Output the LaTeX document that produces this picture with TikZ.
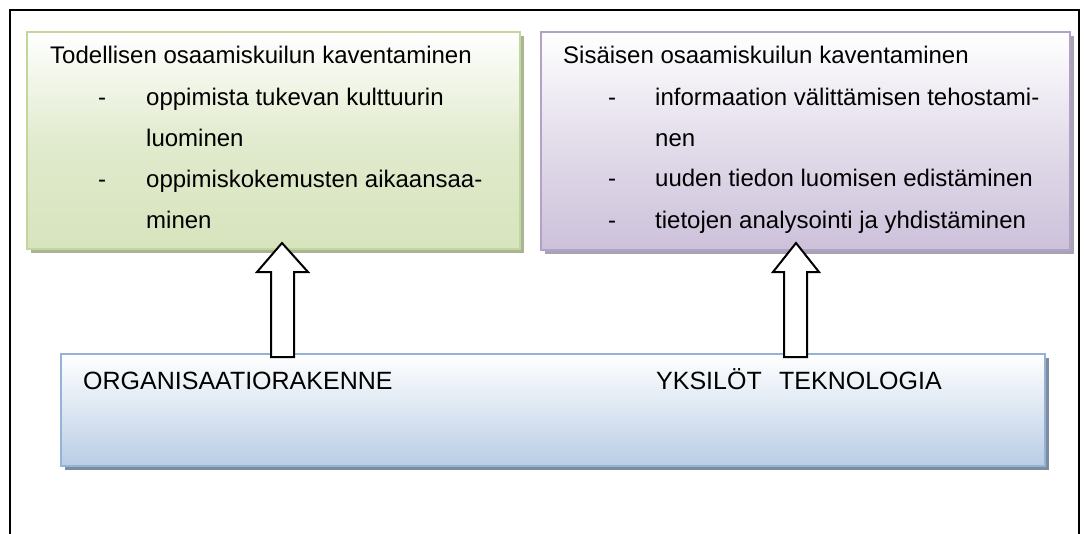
\documentclass[tikz,border=0pt]{standalone}
\usepackage{fontspec}
\setmainfont{Liberation Sans}
\begin{document}
\definecolor{gfill}{HTML}{D7E4BD}
\definecolor{gline}{HTML}{C3D69B}
\definecolor{gshade}{HTML}{A9B496}
\definecolor{pfill}{HTML}{CCC1DA}
\definecolor{pline}{HTML}{B3A2C7}
\definecolor{pshade}{HTML}{A8A2B2}
\definecolor{bfill}{HTML}{B9CDE5}
\definecolor{bline}{HTML}{95B3D7}
\definecolor{bshade}{HTML}{7E8CA2}
\begin{tikzpicture}[x=1pt,y=-1pt,
  txt/.style={anchor=base west,inner sep=0pt,font=\fontsize{24}{28}\selectfont},
  captxt/.style={anchor=base west,inner sep=0pt,font=\fontsize{25}{29}\selectfont},
  blockarrow/.style={draw=black,fill=white,line width=2pt,line join=miter},
  frame/.style={draw=black,line width=2pt}]
\useasboundingbox (0,0) rectangle (1087,533);

% outer frame, open at the bottom
\draw[frame] (10,540) -- (10,10) -- (1079,10) -- (1079,540);

% left box: real competence gap
\fill[gshade] (31,36) rectangle (524,253);
\draw[gline,line width=2pt,top color=white,bottom color=gfill,middle color=gfill!75!white]
  (27,32) rectangle (520,249);
\node[txt] (l0) at (50,63) {Todellisen osaamiskuilun kaventaminen};
\node[txt] (l1d) at (98,105) {-};
\node[txt] (l1) at (146,105) {oppimista tukevan kulttuurin};
\node[txt] (l2) at (146,146) {luominen};
\node[txt] (l3d) at (98,187) {-};
\node[txt] (l3) at (146,187) {oppimiskokemusten aikaansaa-};
\node[txt] (l4) at (146,228) {minen};

% right box: internal competence gap
\fill[pshade] (545,36) rectangle (1074,254);
\draw[pline,line width=2pt,top color=white,bottom color=pfill,middle color=pfill!55!white]
  (541,32) rectangle (1070,250);
\node[txt] (r0) at (563,63) {Sisäisen osaamiskuilun kaventaminen};
\node[txt] (r1d) at (608,105) {-};
\node[txt] (r1) at (655,105) {informaation välittämisen tehostami-};
\node[txt] (r2) at (655,146) {nen};
\node[txt] (r3d) at (608,186) {-};
\node[txt] (r3) at (655,186) {uuden tiedon luomisen edistäminen};
\node[txt] (r4d) at (608,228) {-};
\node[txt] (r4) at (655,228) {tietojen analysointi ja yhdistäminen};

% bottom box: enablers
\fill[bshade] (65,358) rectangle (1049,470);
\draw[bline,line width=2pt,top color=white,bottom color=bfill,middle color=bfill!50!white]
  (61,354) rectangle (1045,466);
\node[captxt] (b1) at (83,389) {ORGANISAATIORAKENNE};
\node[captxt] (b2) at (656,389) {YKSILÖT};
\node[captxt] (b3) at (779,389) {TEKNOLOGIA};

% block arrows from the bottom box up to the gap boxes
\draw[blockarrow] (282,243) -- (308,272) -- (294,272) -- (294,357) -- (271,357)
  -- (271,272) -- (257,272) -- cycle;
\draw[blockarrow] (796,243) -- (819,272) -- (807,272) -- (807,357) -- (784,357)
  -- (784,272) -- (773,272) -- cycle;
\end{tikzpicture}
\end{document}
